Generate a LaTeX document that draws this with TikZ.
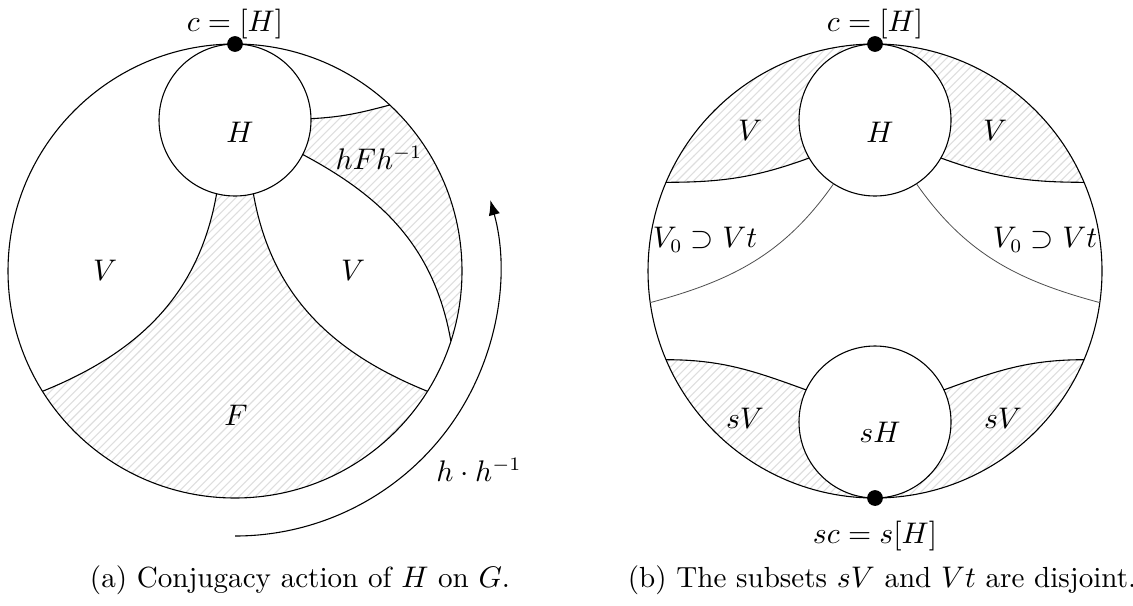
\documentclass[tikz,border=0pt]{standalone}
\usepackage{amsmath,amssymb}
\usetikzlibrary{calc,arrows.meta,patterns}
\definecolor{hatchc}{HTML}{DEDEDE}
\definecolor{thinc}{HTML}{505050}

\begin{document}
\begin{tikzpicture}[x=0.3676pt,y=0.3676pt,
 every node/.style={font=\fontsize{10.7pt}{13pt}\selectfont},
 hatch/.style={pattern=north east lines,pattern color=hatchc},
 pnt/.style={circle,fill=black,inner sep=0pt,minimum size=5.8pt},
 faint/.style={thinc,line width=0.3pt}]
\useasboundingbox (0,0) rectangle (1133,605);
% (a) conjugacy action
\coordinate (L) at (235,334);
\coordinate (LH) at (235,485);
\coordinate (a1) at ($(LH)+(1:76)$);
\coordinate (a2) at ($(L)+(47:227)$);
\coordinate (b1) at ($(LH)+(-27:76)$);
\coordinate (b2) at ($(L)+(-18:227)$);
\coordinate (f1) at ($(LH)+(-104:76)$);
\coordinate (f2) at ($(L)+(-148:227)$);
\coordinate (g1) at ($(LH)+(-76:76)$);
\coordinate (g2) at ($(L)+(-32:227)$);
\fill[hatch] (f1) to[out=-100,in=22] (f2) arc[start angle=-148,end angle=-32,radius=227]
 to[out=158,in=-80] (g1) arc[start angle=-76,end angle=-104,radius=76] -- cycle;
\fill[hatch] (a1) to[out=3,in=195] (a2) arc[start angle=47,end angle=-18,radius=227]
 to[out=100,in=-28] (b1) arc[start angle=-27,end angle=1,radius=76] -- cycle;
\draw (L) circle[radius=227];
\draw (LH) circle[radius=76];
\draw (a1) to[out=3,in=195] (a2);
\draw (b1) to[out=-28,in=100] (b2);
\draw (f1) to[out=-100,in=22] (f2);
\draw (g1) to[out=-80,in=158] (g2);
\draw[-{Latex[length=5.5pt,width=4.2pt]}] ($(L)+(-90:265)$) arc[start angle=-90,end angle=15.5,radius=265];
\node[pnt] (cL) at ($(L)+(90:227)$) {};
\node[above=-1.5pt] (cLlab) at (cL) {$c=[H]$};
\node (HL) at (240,473) {$H$};
\node (hFh) at (379,447) {$hFh^{-1}$};
\node (VL1) at (105,335) {$V$};
\node (VL2) at (353,335) {$V$};
\node (FL) at (236,190) {$F$};
\node (act) at (479,135) {$h\cdot h^{-1}$};
\node (capa) at (300,25) {(a) Conjugacy action of $H$ on $G$.};
% (b) disjoint subsets
\coordinate (R) at (875,334);
\coordinate (RH) at (875,485);
\coordinate (RS) at (875,183);
\coordinate (u1) at ($(RH)+(210:76)$);
\coordinate (u2) at ($(R)+(157:227)$);
\coordinate (u3) at ($(RH)+(-30:76)$);
\coordinate (u4) at ($(R)+(23:227)$);
\coordinate (t1) at ($(RH)+(237:76)$);
\coordinate (t2) at ($(R)+(188:227)$);
\coordinate (t3) at ($(RH)+(-57:76)$);
\coordinate (t4) at ($(R)+(-8:227)$);
\coordinate (l1) at ($(RS)+(155:76)$);
\coordinate (l2) at ($(R)+(203:227)$);
\coordinate (l3) at ($(RS)+(25:76)$);
\coordinate (l4) at ($(R)+(-23:227)$);
\fill[hatch] ($(R)+(90:227)$) arc[start angle=90,end angle=157,radius=227]
 to[out=0,in=200] (u1) arc[start angle=210,end angle=90,radius=76] -- cycle;
\fill[hatch] ($(R)+(90:227)$) arc[start angle=90,end angle=23,radius=227]
 to[out=180,in=-20] (u3) arc[start angle=-30,end angle=90,radius=76] -- cycle;
\fill[hatch] ($(R)+(-90:227)$) arc[start angle=-90,end angle=-157,radius=227]
 to[out=0,in=160] (l1) arc[start angle=155,end angle=270,radius=76] -- cycle;
\fill[hatch] ($(R)+(-90:227)$) arc[start angle=-90,end angle=-23,radius=227]
 to[out=180,in=20] (l3) arc[start angle=25,end angle=-90,radius=76] -- cycle;
\draw (R) circle[radius=227];
\draw (RH) circle[radius=76];
\draw (RS) circle[radius=76];
\draw (u1) to[out=200,in=0] (u2);
\draw (u3) to[out=-20,in=180] (u4);
\draw (l1) to[out=160,in=0] (l2);
\draw (l3) to[out=20,in=180] (l4);
\draw[faint] (t1) to[out=235,in=15] (t2);
\draw[faint] (t3) to[out=-55,in=165] (t4);
\node[pnt] (cR) at ($(R)+(90:227)$) {};
\node[above=-1.5pt] (cRlab) at (cR) {$c=[H]$};
\node[pnt] (sc) at ($(R)+(-90:227)$) {};
\node[below=5pt] (sclab) at (sc) {$sc=s[H]$};
\node (HR) at (880,473) {$H$};
\node (VR1) at (750,475) {$V$};
\node (VR2) at (995,475) {$V$};
\node (V0L) at (705,365) {$V_0\supset Vt$};
\node (V0R) at (1045,365) {$V_0\supset Vt$};
\node (sVL) at (745,187) {$sV$};
\node (sVR) at (1003,187) {$sV$};
\node (sH) at (880,173) {$sH$};
\node (capb) at (882,25) {(b) The subsets $sV$ and $Vt$ are disjoint.};
\end{tikzpicture}
\end{document}
